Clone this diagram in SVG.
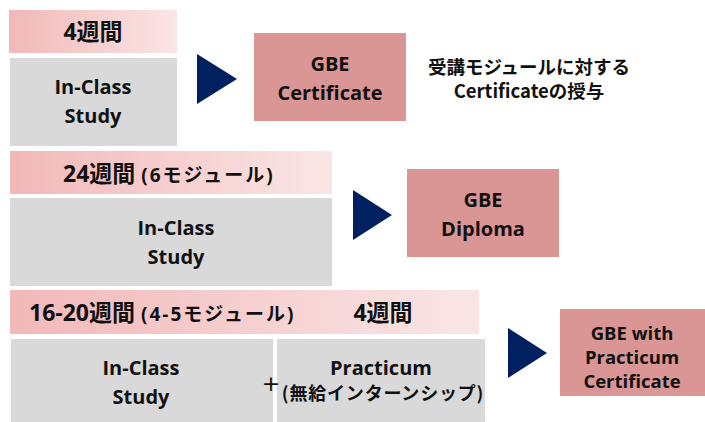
<svg xmlns="http://www.w3.org/2000/svg" width="705" height="422" viewBox="0 0 705 422">
<defs>
<linearGradient id="hg" x1="0" y1="0" x2="1" y2="0">
<stop offset="0" stop-color="#f2b8b8"/>
<stop offset="1" stop-color="#fae6e6"/>
</linearGradient>
</defs>
<style>
.hd{fill:url(#hg)}
.gy{fill:#d9d9d9}
.rs{fill:#da9694}
.ar{fill:#002060}
text{font-family:"Open Sans","Noto Sans CJK JP",sans-serif;font-weight:bold;fill:#111;text-anchor:middle}
.t20{font-size:20px}
.t19{font-size:18.5px}
.h21{font-size:23px}
.t16{font-size:19px;letter-spacing:2px}
.jp{font-family:"Noto Sans CJK JP",sans-serif;font-size:18.5px}
.jp2{font-family:"Noto Sans CJK JP",sans-serif;font-size:18px;letter-spacing:0.8px}
.pl{font-family:"DejaVu Sans",sans-serif;font-weight:normal;font-size:22px}
</style>
<rect width="705" height="422" fill="#fff"/>
<g id="row1-header"><rect class="hd" x="9" y="10" width="168" height="43"/><text class="h21" x="93" y="40">4週間</text></g>
<g id="row1-study"><rect class="gy" x="10" y="58" width="167" height="88"/><text class="t20" x="93" y="94">In-Class</text><text class="t20" x="93" y="123">Study</text></g>
<g id="row1-cert"><rect class="rs" x="254" y="33" width="152" height="88"/><text class="t20" x="330" y="71">GBE</text><text class="t20" x="330" y="100">Certificate</text></g>
<g id="row1-note"><text class="jp" x="529" y="74">受講モジュールに対する</text><text class="jp" x="529" y="98">Certificateの授与</text></g>
<g id="row2-header"><rect class="hd" x="10" y="151" width="322" height="43"/><text class="h21" x="63" y="182" style="text-anchor:start">24週間 <tspan class="t16">(6モジュール)</tspan></text></g>
<g id="row2-study"><rect class="gy" x="10" y="198" width="322" height="88"/><text class="t20" x="176" y="235">In-Class</text><text class="t20" x="176" y="264">Study</text></g>
<g id="row2-diploma"><rect class="rs" x="407" y="169" width="152" height="88"/><text class="t20" x="483" y="207">GBE</text><text class="t20" x="483" y="236">Diploma</text></g>
<g id="row3-header"><rect class="hd" x="10" y="290" width="469" height="44"/><text class="h21" x="29" y="321" style="text-anchor:start">16-20週間 <tspan class="t16">(4-5モジュール)</tspan></text><text class="h21" x="383" y="321">4週間</text></g>
<g id="row3-study"><rect class="gy" x="11" y="339" width="262" height="83"/><text class="t20" x="141" y="375">In-Class</text><text class="t20" x="141" y="404">Study</text></g>
<g id="row3-practicum"><rect class="gy" x="277" y="339" width="208" height="83"/><text class="t20" x="381" y="375">Practicum</text><text class="jp2" x="383" y="400">(無給インターンシップ)</text></g>
<text class="pl" x="271" y="391">+</text>
<g id="row3-cert"><rect class="rs" x="560" y="309" width="145" height="87"/><text class="t19" x="632" y="340">GBE with</text><text class="t19" x="632" y="364">Practicum</text><text class="t19" x="632" y="388">Certificate</text></g>
<g id="connectors">
<polygon class="ar" points="197,54 237,79 197,104"/>
<polygon class="ar" points="353,190 392,215 353,240"/>
<polygon class="ar" points="508,328 547,353 508,378"/>
</g>
</svg>
